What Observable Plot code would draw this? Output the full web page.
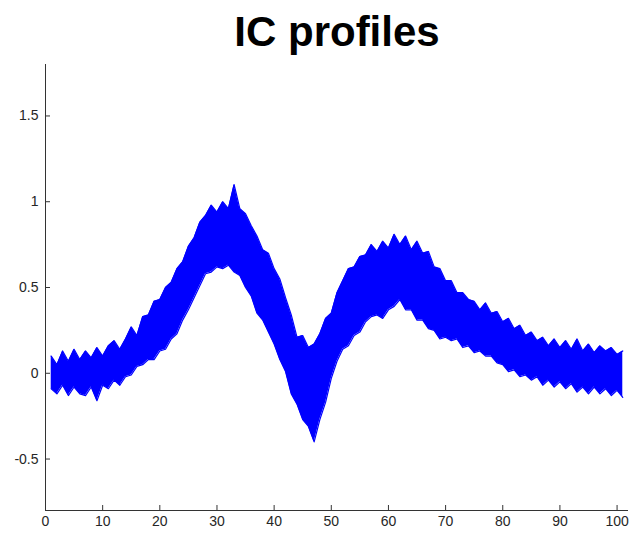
<!DOCTYPE html>
<html><head><meta charset="utf-8">
<script src="https://cdn.jsdelivr.net/npm/d3@7"></script>
<script src="https://cdn.jsdelivr.net/npm/@observablehq/plot@0.6"></script>
<style>
body{margin:0;background:#fff;}
#title{position:relative;height:60px;width:632px;}
#title span{position:absolute;left:337px;top:11px;transform:translateX(-50%);font:bold 42px/42px "Liberation Sans",Arial,sans-serif;white-space:nowrap;color:#000;}
</style></head><body>
<div id="title"><span id="t"></span></div>
<div id="chart"></div>
<script>
const chartTitle = "IC profiles";
// envelope of the ~100 overlaid IC profiles, samples 1..101
const upperEnvelope = [
 0.10,0.05,0.13,0.07,0.14,0.08,0.13,0.09,0.15,0.10,
 0.16,0.19,0.14,0.20,0.27,0.22,0.33,0.34,0.42,0.43,
 0.50,0.53,0.61,0.65,0.74,0.79,0.88,0.92,0.98,0.94,
 1.00,0.96,1.10,0.96,0.93,0.86,0.80,0.72,0.70,0.61,
 0.55,0.44,0.34,0.21,0.22,0.15,0.17,0.23,0.32,0.35,
 0.47,0.54,0.61,0.62,0.68,0.69,0.75,0.71,0.77,0.73,
 0.81,0.75,0.80,0.72,0.77,0.70,0.71,0.62,0.61,0.54,
 0.54,0.47,0.47,0.43,0.42,0.37,0.41,0.35,0.36,0.30,
 0.32,0.26,0.28,0.22,0.24,0.19,0.21,0.16,0.20,0.15,
 0.19,0.14,0.20,0.13,0.17,0.12,0.16,0.13,0.15,0.11,
 0.13];
const lowerEnvelope = [
 -0.09,-0.12,-0.07,-0.13,-0.08,-0.12,-0.13,-0.08,-0.16,-0.07,
 -0.09,-0.04,-0.07,-0.02,-0.01,0.04,0.05,0.08,0.08,0.13,
 0.14,0.20,0.23,0.31,0.37,0.44,0.51,0.58,0.59,0.62,
 0.61,0.63,0.59,0.57,0.50,0.45,0.35,0.31,0.24,0.17,
 0.08,0.01,-0.12,-0.18,-0.27,-0.31,-0.40,-0.27,-0.17,-0.03,
 0.07,0.14,0.16,0.22,0.24,0.30,0.33,0.34,0.32,0.37,
 0.39,0.43,0.37,0.37,0.31,0.31,0.26,0.25,0.20,0.21,
 0.19,0.20,0.15,0.16,0.12,0.13,0.10,0.10,0.06,0.05,
 0.01,0.02,-0.02,-0.01,-0.04,-0.02,-0.07,-0.04,-0.08,-0.05,
 -0.09,-0.06,-0.11,-0.08,-0.12,-0.08,-0.12,-0.09,-0.13,-0.10,
 -0.14];
const xTicks = [0,10,20,30,40,50,60,70,80,90,100];
const yTicks = [-0.5,0,0.5,1,1.5];
const xDomain = [0,102];
const yDomain = [-0.8,1.8];

document.getElementById("t").textContent = chartTitle;
const rows = upperEnvelope.map((u,i)=>({sample:i+1, upper:u, lower:lowerEnvelope[i]}));
const W = 632, H = 473, mT = 4, mB = 23, mL = 45, mR = 4;
const blue = "#0000ff";
const chart = Plot.plot({
  width: W, height: H, marginTop: mT, marginBottom: mB, marginLeft: mL, marginRight: mR,
  style: {fontFamily: "'Liberation Sans', Arial, sans-serif", fontSize: "14px", color: "#262626", background: "#fff"},
  x: {domain: xDomain, label: null},
  y: {domain: yDomain, label: null},
  marks: [
    Plot.areaY(rows, {x: "sample", y1: "lower", y2: "upper", fill: blue}),
    Plot.line(rows, {x: "sample", y: "upper", stroke: blue, strokeWidth: 1.2}),
    Plot.line(rows, {x: "sample", y: "lower", stroke: blue, strokeWidth: 1.2}),
    Plot.axisX({ticks: xTicks, tickSize: 0, tickPadding: 6, tickFormat: d => String(d), fontSize: 14, label: null}),
    Plot.axisY({ticks: yTicks, tickSize: 0, tickPadding: 7, tickFormat: d => String(d), fontSize: 14, label: null}),
    Plot.tickX(xTicks, {x: d => d, insetTop: H - mT - mB - 5, stroke: "#333"}),
    Plot.tickY(yTicks, {y: d => d, insetRight: W - mL - mR - 5, stroke: "#333"}),
    Plot.ruleX([xDomain[0]], {stroke: "#333"}),
    Plot.ruleY([yDomain[0]], {stroke: "#333"})
  ]
});
document.getElementById("chart").append(chart);
</script>
</body></html>
